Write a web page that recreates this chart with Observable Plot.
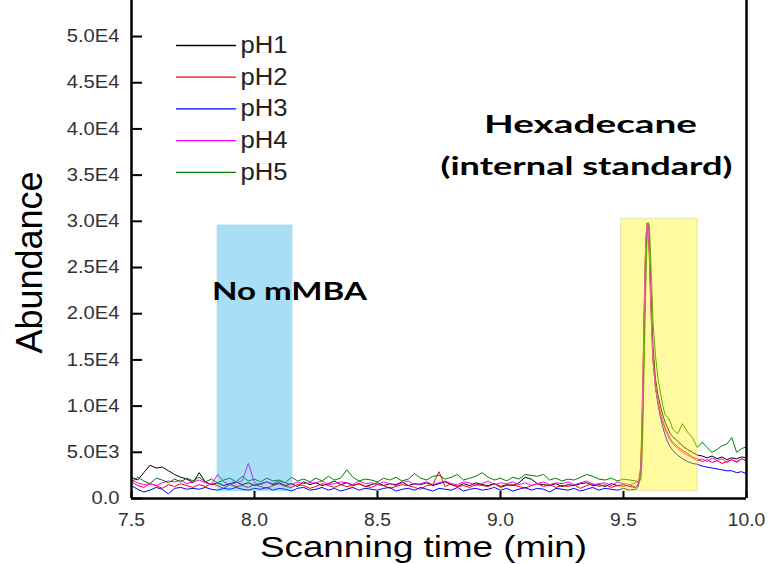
<!DOCTYPE html>
<html><head><meta charset="utf-8">
<script src="https://cdn.jsdelivr.net/npm/d3@7"></script>
<script src="https://cdn.jsdelivr.net/npm/@observablehq/plot@0.6"></script>
<style>
html,body{margin:0;padding:0;background:#fff;}
#chart{width:768px;height:564px;overflow:hidden;}
</style></head><body><div id="chart"></div>
<script>
// ---------- data ----------
const time = [
  7.500, 7.525, 7.550, 7.575, 7.600, 7.625, 7.650, 7.675, 7.700, 7.725,
  7.750, 7.775, 7.800, 7.825, 7.850, 7.875, 7.900, 7.925, 7.950, 7.975,
  8.000, 8.025, 8.050, 8.075, 8.100, 8.125, 8.150, 8.175, 8.200, 8.225,
  8.250, 8.275, 8.300, 8.325, 8.350, 8.375, 8.400, 8.425, 8.450, 8.475,
  8.500, 8.525, 8.550, 8.575, 8.600, 8.625, 8.650, 8.675, 8.700, 8.725,
  8.750, 8.775, 8.800, 8.825, 8.850, 8.875, 8.900, 8.925, 8.950, 8.975,
  9.000, 9.025, 9.050, 9.075, 9.100, 9.125, 9.150, 9.175, 9.200, 9.225,
  9.250, 9.275, 9.300, 9.325, 9.350, 9.375, 9.400, 9.425, 9.450, 9.475,
  9.500, 9.525, 9.550,
  9.560, 9.570, 9.575, 9.580, 9.585, 9.590, 9.595, 9.600, 9.605, 9.610,
  9.615, 9.620, 9.630, 9.640, 9.650, 9.660, 9.670, 9.680, 9.690, 9.700,
  9.720, 9.740, 9.760, 9.780, 9.800, 9.820, 9.840, 9.860, 9.880, 9.900,
  9.920, 9.940, 9.960, 9.980, 10.000
];
const pH1 = [
  2300, 2000, 2800, 3600, 3300, 3400, 3000, 2600, 2300, 2100,
  1700, 2800, 1800, 1500, 1700, 1400, 1600, 1800, 1500, 1700,
  1400, 1600, 1800, 1500, 1700, 1400, 1600, 1300, 1800, 1500,
  1700, 1400, 1600, 1900, 1500, 1700, 1400, 1600, 1300, 1500,
  1700, 1400, 1600, 1500, 1800, 1400, 1600, 1500, 1700, 1400,
  1600, 1800, 1500, 1300, 1600, 1400, 1700, 1500, 1400, 1600,
  1300, 1500, 1400, 1700, 2300, 2100, 1600, 1500, 1400, 1600,
  1300, 1500, 1400, 1600, 1700, 1400, 1500, 1300, 1600, 1400,
  1500, 1300, 1200,
  1500, 2500, 6000, 12000, 19000, 25000, 29000, 29800, 28500, 24000,
  20000, 16500, 13000, 11200, 10000, 9000, 8200, 7600, 7000, 6700,
  6200, 5700, 5300, 5000, 4700, 4600, 4400, 4600, 4300, 4500,
  4200, 4400, 4300, 4500, 4400
];
const pH2 = [
  1800, 1400, 1200, 1600, 1400, 1100, 1500, 1300, 1600, 1400,
  1200, 1500, 1300, 1600, 1400, 1100, 1500, 1300, 1400, 1200,
  1500, 1300, 1100, 1400, 1600, 1300, 1200, 1500, 1400, 1100,
  1300, 1600, 1400, 1200, 1500, 1300, 1400, 1600, 1300, 1200,
  1500, 1400, 1100, 1300, 1500, 1400, 1200, 1000, 1400, 1500,
  2900, 1300, 1600, 1300, 1400, 1200, 1500, 1400, 1300, 1600,
  1200, 1400, 1500, 1300, 1100, 1400, 1600, 1300, 1500, 1200,
  1400, 1300, 1500, 1100, 1400, 1600, 1300, 1500, 1200, 1400,
  1300, 1500, 1200,
  1600, 3500, 8500, 15000, 22000, 27500, 29800, 29000, 26000, 21500,
  18000, 15000, 12000, 10500, 9300, 8400, 7600, 7000, 6500, 6100,
  5600, 5200, 4900, 4500, 4300, 4000, 4200, 3900, 4100, 3800,
  4000, 4200, 3900, 4300, 4100
];
const pH3 = [
  1400, 1000, 700, 900, 1200, 1000, 500, 1100, 1200, 1000,
  1100, 1000, 1200, 1000, 900, 1100, 1000, 1200, 1000, 900,
  1100, 1000, 1200, 900, 1100, 1000, 800, 1100, 1200, 900,
  1000, 1200, 900, 1100, 800, 1000, 1200, 900, 1100, 1000,
  900, 1100, 1200, 800, 1000, 1100, 900, 1200, 1000, 800,
  1100, 1000, 900, 1200, 800, 1000, 1100, 900, 1000, 1200,
  900, 1100, 800, 1000, 1200, 900, 1100, 1000, 700, 1100,
  1000, 900, 1100, 800, 1000, 1200, 900, 1100, 1000, 900,
  1100, 900, 1000,
  1300, 2800, 7000, 13500, 21000, 27000, 29500, 29700, 27000, 22500,
  18500, 15000, 12000, 10200, 8800, 7700, 6800, 6100, 5600, 5200,
  4700, 4300, 4000, 3800, 3700, 3500, 3400, 3300, 3200, 3100,
  3000, 3000, 2800, 2900, 2700
];
const pH4 = [
  2000, 1700, 1500, 1600, 1400, 1700, 1900, 1800, 2000, 1600,
  1800, 2000, 1700, 1500, 2600, 1800, 1500, 1700, 1900, 3800,
  1700, 1500, 1800, 1600, 1900, 1700, 1500, 1800, 1600, 1700,
  1700, 1900, 1500, 1600, 1800, 1700, 1500, 1900, 1600, 1700,
  1500, 1800, 1600, 1400, 1700, 1900, 1500, 1600, 1800, 1500,
  1700, 1900, 1600, 1500, 1800, 1700, 1400, 1600, 1900, 1500,
  1700, 1600, 1800, 1500, 1700, 1400, 1600, 1800, 1500, 1700,
  1600, 1800, 1500, 1700, 1900, 1500, 1600, 1700, 1400, 1800,
  1600, 1500, 1700,
  1800, 2600, 7500, 14000, 21500, 27500, 29800, 29400, 26500, 22000,
  18000, 14800, 12000, 10500, 9200, 8200, 7400, 6800, 6300, 5900,
  5400, 5000, 4700, 4400, 4100, 4300, 4000, 4400, 4100, 4300,
  3900, 4200, 4000, 4300, 4100
];
const pH5 = [
  1800, 2300, 1900, 1600, 2200, 2000, 1700, 2100, 1800, 2200,
  1900, 2300, 1800, 2100, 1700, 2000, 2200, 1800, 2400, 1900,
  2100, 1800, 2200, 1900, 2000, 1700, 2300, 1900, 2100, 1800,
  2200, 1900, 2400, 2000, 2200, 3100, 2300, 1900, 2100, 2000,
  1800, 2200, 2000, 2300, 1900, 2100, 2700, 2200, 2000, 2400,
  2500, 2100, 2300, 2600, 2000, 2200, 2400, 2800, 2300, 2000,
  2200, 1900, 2300, 2100, 2600, 2500, 2400, 2600, 2000, 2200,
  1900, 2100, 2000, 2300, 2600, 2400, 2100, 2000, 2200, 1900,
  2100, 2000, 1900,
  1800, 2000, 4000, 9000, 16000, 22000, 27500, 29900, 29500, 26500,
  23000, 19000, 15500, 13000, 11500, 10000, 9000, 8800, 8300, 7500,
  7000, 8100, 7200, 6600, 5500, 6100, 5500, 5000, 5300, 5700,
  5900, 6600, 5000, 5400, 5600
];
const seriesNames = ["pH1", "pH2", "pH3", "pH4", "pH5"];
const seriesValues = [pH1, pH2, pH3, pH4, pH5];
const seriesColors = ["#000000", "#ff0000", "#0000ff", "#ff00ff", "#008000"];

const xDomain = [7.5, 10.0];
const yDomain = [0, 53900];
const xTicks = [7.5, 8.0, 8.5, 9.0, 9.5, 10.0];
const xTickLabels = ["7.5", "8.0", "8.5", "9.0", "9.5", "10.0"];
const yTicks = [0, 5000, 10000, 15000, 20000, 25000, 30000, 35000, 40000, 45000, 50000];
const yTickLabels = ["0.0", "5.0E3", "1.0E4", "1.5E4", "2.0E4", "2.5E4", "3.0E4", "3.5E4", "4.0E4", "4.5E4", "5.0E4"];

const regionNames = ["No mMBA", "Hexadecane\n(internal standard)"];
const regionStart = [7.848, 9.490];
const regionEnd = [8.156, 9.802];
const regionLow = [750, 800];
const regionHigh = [29600, 30270];

const xLabel = "Scanning time (min)";
const yLabel = "Abundance";

// ---------- build ----------
const rows = seriesNames.flatMap((s, i) => time.map((t, j) => ({s, t, v: seriesValues[i][j]})));
const regions = regionNames.map((n, i) => ({n, x1: regionStart[i], x2: regionEnd[i], y1: regionLow[i], y2: regionHigh[i]}));

const W = 768, H = 564, mL = 131, mR = 22, mT = 0, mB = 66;
const frameW = W - mL - mR, frameH = H - mT - mB;
const regionStyle = [
  {fill: "#00a2e8", fillOpacity: 0.34, stroke: "none"},
  {fill: "#fff500", fillOpacity: 0.38, stroke: "#d9d6a8", strokeOpacity: 0.6}
];
const hLine = {draw(ctx, l) { ctx.moveTo(0, 0); ctx.lineTo(l, 0); }};
const labelFont = "'Liberation Sans', Arial, Helvetica, sans-serif";
const boldFont = "Lato, 'Open Sans', 'DejaVu Sans', sans-serif";

const chart = Plot.plot({
  width: W, height: H,
  marginLeft: mL, marginRight: mR, marginTop: mT, marginBottom: mB,
  style: {fontFamily: labelFont, background: "#fff", overflow: "visible"},
  x: {domain: xDomain},
  y: {domain: yDomain},
  color: {domain: seriesNames, range: seriesColors},
  marks: [
    Plot.line(rows, {x: "t", y: "v", z: "s", stroke: "s", strokeWidth: 1}),
    ...regions.map((r, i) => Plot.rect([r], {x1: "x1", x2: "x2", y1: "y1", y2: "y2", ...regionStyle[i]})),
    Plot.ruleX(xDomain, {stroke: "#000", strokeWidth: 2.5}),
    Plot.ruleY([yDomain[0]], {stroke: "#000", strokeWidth: 2.5}),
    Plot.tickX(xTicks, {x: d => d, insetTop: frameH - 7, stroke: "#000", strokeWidth: 2}),
    Plot.tickY(yTicks, {y: d => d, insetRight: frameW - 11, stroke: "#000", strokeWidth: 2}),
    Plot.axisX({ticks: xTicks, tickFormat: d => xTickLabels[xTicks.indexOf(d)], tickSize: 0, tickPadding: 15, fontSize: 18, color: "#333", label: null}),
    Plot.axisY({ticks: yTicks, tickFormat: d => yTickLabels[yTicks.indexOf(d)], tickSize: 0, tickPadding: 12, fontSize: 18, color: "#333", label: null}),
    // axis titles
    Plot.text([yLabel], {text: d => d, frameAnchor: "top-left", dx: 30 - mL, dy: 262, rotate: -90, fontSize: 36, fill: "#000", lineAnchor: "middle", textAnchor: "middle"}),
    Plot.text([xLabel], {text: d => d, frameAnchor: "top-left", dx: 423 - mL, dy: 556, fontSize: 29, fill: "#000", lineAnchor: "bottom", textAnchor: "middle"}),
    // region annotations
    Plot.text([regionNames[0]], {text: d => d, frameAnchor: "top-left", dx: 289 - mL, dy: 299, fontSize: 25, fontWeight: "bold", fontFamily: boldFont, fill: "#000", lineAnchor: "bottom", textAnchor: "middle"}),
    Plot.text([regionNames[1].split("\n")[0]], {text: d => d, frameAnchor: "top-left", dx: 590 - mL, dy: 132, fontSize: 25, fontWeight: "bold", fontFamily: boldFont, fill: "#000", lineAnchor: "bottom", textAnchor: "middle"}),
    Plot.text([regionNames[1].split("\n")[1]], {text: d => d, frameAnchor: "top-left", dx: 586 - mL, dy: 174, fontSize: 25, fontWeight: "bold", fontFamily: boldFont, fill: "#000", lineAnchor: "bottom", textAnchor: "middle"}),
    // legend
    ...seriesNames.flatMap((s, i) => [
      Plot.vector([s], {frameAnchor: "top-left", dx: 176 - mL, dy: 45 + i * 31.7, length: 59, rotate: 0, anchor: "start", shape: hLine, stroke: seriesColors[i], strokeWidth: 1.3}),
      Plot.text([s], {text: d => d, frameAnchor: "top-left", dx: 240 - mL, dy: 45 + i * 31.7, fontSize: 23, fill: "#222", lineAnchor: "middle", textAnchor: "start"})
    ])
  ]
});

// horizontal stretch of text to match the reference's wide glyphs
const fitWidths = new Map([
  [xLabel, 327], ["No mMBA", 155], ["Hexadecane", 213], ["(internal standard)", 292],
  ...seriesNames.map(s => [s, 47])
]);
chart.querySelectorAll("text").forEach(t => {
  const w = fitWidths.get(t.textContent);
  if (w) { t.setAttribute("textLength", w); t.setAttribute("lengthAdjust", "spacingAndGlyphs"); }
});
const stretch = (sel, k) => chart.querySelectorAll(sel).forEach(t => {
  t.setAttribute("transform", (t.getAttribute("transform") || "") + ` scale(${k},1)`);
});
stretch('g[aria-label="x-axis tick label"] text', 1.07);
stretch('g[aria-label="y-axis tick label"] text', 1.12);

document.getElementById("chart").append(chart);
</script>
</body></html>
